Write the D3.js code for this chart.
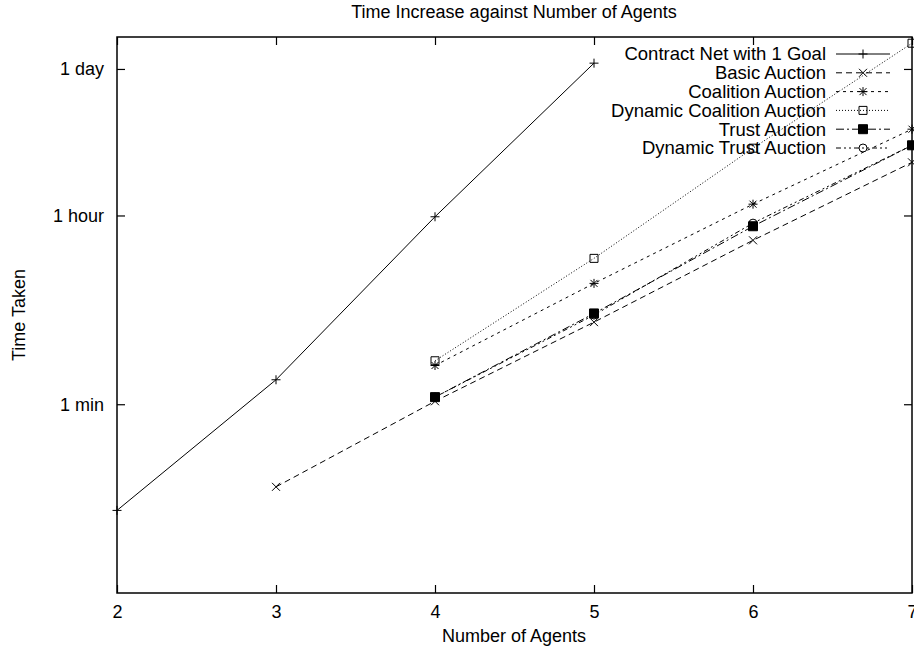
<!DOCTYPE html>
<html>
<head>
<meta charset="utf-8">
<style>
    body { margin: 0; background: #fff; }
    svg { display: block; font-family: "Liberation Sans", Arial, Helvetica, sans-serif; }
    .axis .domain { display: none; }
    .axis .tick line { stroke: #000; stroke-width: 1.2px; }
    .axis text { font-size: 18px; fill: #000; }
</style>
</head>
<body>
<svg width="914" height="656"></svg>
<script src="https://d3js.org/d3.v7.min.js"></script>
<script>
    // number of agents on the x axis
    let agentTicks = [2, 3, 4, 5, 6, 7];

    // time taken, in seconds
    let contractAgents = [2, 3, 4, 5];
    let contractNet = [6, 102, 3500, 98000];

    let basicAgents = [3, 4, 5, 6, 7];
    let basicAuction = [10, 64, 356, 2100, 11400];

    let laterAgents = [4, 5, 6, 7];
    let coalitionAuction = [139, 825, 4600, 23400];
    let dynCoalitionAuction = [154, 1420, 15500, 151000];
    let trustAuction = [70, 430, 2850, 16500];
    let dynTrustAuction = [70, 415, 3050, 16500];

    let yTickValues = [60, 3600, 86400];
    let yTickLabels = ["1 min", "1 hour", "1 day"];

    let seriesNames = ["Contract Net with 1 Goal", "Basic Auction", "Coalition Auction",
        "Dynamic Coalition Auction", "Trust Auction", "Dynamic Trust Auction"];

    let margin = { top: 37, right: 2, bottom: 63, left: 117 };
    let width = 914;
    let height = 656;

    let svg = d3.select("svg");

    let x = d3.scaleLinear()
        .domain([2, 7])
        .range([margin.left, width - margin.right]);

    let y = d3.scaleLog()
        .domain([1, 172800])
        .range([height - margin.bottom, margin.top]);

    function zip(xs, ys) {
        return xs.map((a, i) => ({ x: a, y: ys[i] }));
    }

    let series = [
        { name: seriesNames[0], data: zip(contractAgents, contractNet), dash: null, marker: "plus" },
        { name: seriesNames[1], data: zip(basicAgents, basicAuction), dash: "6,4", marker: "cross" },
        { name: seriesNames[2], data: zip(laterAgents, coalitionAuction), dash: "3,4", marker: "star" },
        { name: seriesNames[3], data: zip(laterAgents, dynCoalitionAuction), dash: "1,2", marker: "box" },
        { name: seriesNames[4], data: zip(laterAgents, trustAuction), dash: "8,3,2,3", marker: "fbox" },
        { name: seriesNames[5], data: zip(laterAgents, dynTrustAuction), dash: "5,3,2,3,2,3", marker: "circle" }
    ];

    let markerPath = {
        plus: "M-4.5,0H4.5M0,-4.5V4.5",
        cross: "M-4,-4L4,4M-4,4L4,-4",
        star: "M-4.5,0H4.5M0,-4.5V4.5M-3.5,-3.5L3.5,3.5M-3.5,3.5L3.5,-3.5",
        box: "M-4,-4H4V4H-4Z",
        fbox: "M-4.5,-4.5H4.5V4.5H-4.5Z",
        circle: "M4,0A4,4 0 1,1 -4,0A4,4 0 1,1 4,0"
    };

    function drawMarker(g, type) {
        g.append("path")
            .attr("d", markerPath[type])
            .style("fill", type == "fbox" ? "#000" : "none")
            .style("stroke", "#000")
            .style("stroke-width", "1px");
    }

    // axes with inward ticks, mirrored
    svg.append("g")
        .attr("class", "x axis")
        .attr("transform", `translate(0, ${height - margin.bottom})`)
        .call(d3.axisBottom(x).tickValues(agentTicks).tickFormat(d3.format("d"))
            .tickSizeInner(-8).tickSizeOuter(0).tickPadding(12));

    svg.append("g")
        .attr("class", "x axis")
        .attr("transform", `translate(0, ${margin.top})`)
        .call(d3.axisTop(x).tickValues(agentTicks).tickFormat("")
            .tickSizeInner(-8).tickSizeOuter(0));

    svg.append("g")
        .attr("class", "y axis")
        .attr("transform", `translate(${margin.left}, 0)`)
        .call(d3.axisLeft(y).tickValues(yTickValues).tickFormat((d, i) => yTickLabels[i])
            .tickSizeInner(-8).tickSizeOuter(0).tickPadding(13));

    svg.append("g")
        .attr("class", "y axis")
        .attr("transform", `translate(${width - margin.right}, 0)`)
        .call(d3.axisRight(y).tickValues(yTickValues).tickFormat("")
            .tickSizeInner(-8).tickSizeOuter(0));

    // border
    svg.append("rect")
        .attr("x", margin.left)
        .attr("y", margin.top)
        .attr("width", width - margin.right - margin.left)
        .attr("height", height - margin.bottom - margin.top)
        .style("fill", "none")
        .style("stroke", "#000")
        .style("stroke-width", "1.5px");

    let line = d3.line()
        .x(d => x(d.x))
        .y(d => y(d.y));

    series.forEach(function (s) {
        svg.append("path")
            .attr("d", line(s.data))
            .style("fill", "none")
            .style("stroke", "#000")
            .style("stroke-width", "1px")
            .style("stroke-dasharray", s.dash);

        svg.append("g")
            .selectAll("g")
            .data(s.data)
            .join("g")
            .attr("transform", d => `translate(${x(d.x)}, ${y(d.y)})`)
            .each(function () { drawMarker(d3.select(this), s.marker); });
    });

    // legend, no background box
    let legend = svg.append("g");
    series.forEach(function (s, i) {
        let ly = 54 + i * 18.8;
        legend.append("text")
            .attr("x", 826)
            .attr("y", ly)
            .attr("dy", "0.35em")
            .attr("text-anchor", "end")
            .style("font-size", "18.5px")
            .text(s.name);
        legend.append("line")
            .attr("x1", 836)
            .attr("x2", 890)
            .attr("y1", ly)
            .attr("y2", ly)
            .style("stroke", "#000")
            .style("stroke-width", "1px")
            .style("stroke-dasharray", s.dash);
        let m = legend.append("g").attr("transform", `translate(863, ${ly})`);
        drawMarker(m, s.marker);
    });

    // titles
    svg.append("text")
        .attr("x", 514)
        .attr("y", 18)
        .attr("text-anchor", "middle")
        .style("font-size", "18px")
        .text("Time Increase against Number of Agents");

    svg.append("text")
        .attr("x", 514)
        .attr("y", 642)
        .attr("text-anchor", "middle")
        .style("font-size", "18px")
        .text("Number of Agents");

    svg.append("text")
        .attr("transform", "translate(25, 315) rotate(-90)")
        .attr("text-anchor", "middle")
        .style("font-size", "18px")
        .text("Time Taken");
</script>
</body>
</html>
